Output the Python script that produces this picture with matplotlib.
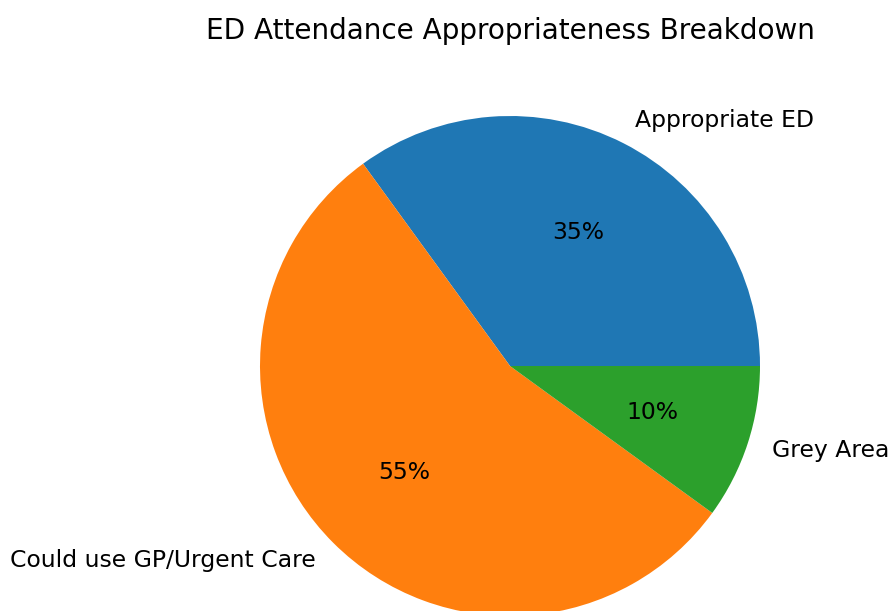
import matplotlib
matplotlib.use('Agg')
import matplotlib.pyplot as plt

labels = ['Appropriate ED', 'Could use GP/Urgent Care', 'Grey Area']
shares = [35, 55, 10]

W, H = 889, 611
fig = plt.figure(figsize=(W / 100, H / 100), dpi=100)

# pie centre (510, 366) px from top-left, radius 250 px; axes spans 2.5 radii
r = 250
cx, cy = 510, H - 366
ax = fig.add_axes([(cx - 1.25 * r) / W, (cy - 1.25 * r) / H, 2.5 * r / W, 2.5 * r / H])

ax.pie(shares, labels=labels, autopct='%1.0f%%',
       textprops={'fontsize': 16.9})
ax.set_aspect('equal')

fig.text(cx / W, 1 - 31 / H, 'ED Attendance Appropriateness Breakdown',
         ha='center', va='center', fontsize=20.1)

fig.savefig('out.png', dpi=100)
